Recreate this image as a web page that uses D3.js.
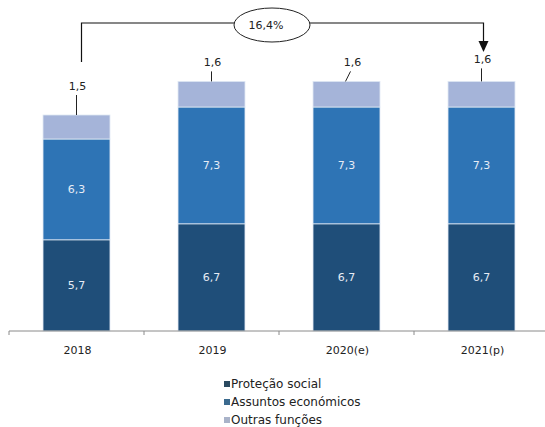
<!DOCTYPE html>
<html><head><meta charset="utf-8">
<script src="https://cdn.jsdelivr.net/npm/d3@7"></script>
<style>body{margin:0;background:#fff}svg{display:block}</style>
</head><body>
<script>
const categories = ["2018","2019","2020(e)","2021(p)"];
const protecao = [5.7, 6.7, 6.7, 6.7];
const assuntos = [6.3, 7.3, 7.3, 7.3];
const outras = [1.5, 1.6, 1.6, 1.6];
const seriesNames = ["Proteção social","Assuntos económicos","Outras funções"];
const growthLabel = "16,4%";

const W = 545, H = 427;
const colors = ["#1f4e79", "#2e74b5", "#a5b4d9"];
const legendColors = ["#2a4a60", "#3b6a8e", "#a9b3c9"];
const fmt = v => String(v).replace(".", ",");

const svg = d3.select("body").append("svg").attr("width", W).attr("height", H)
  .style("font-family", "'DejaVu Sans', sans-serif");

const x = d3.scaleBand().domain(categories).range([9, 549]).paddingInner(0.504).paddingOuter(0.252);
const y = d3.scaleLinear().domain([0, 20]).range([331, 11]);

const rows = categories.map((c, i) => ({cat: c, p: protecao[i], a: assuntos[i], o: outras[i]}));
const stack = d3.stack().keys(["p","a","o"])(rows);

stack.forEach((layer, li) => {
  const g = svg.append("g");
  g.selectAll("rect").data(layer).join("rect")
    .attr("x", d => x(d.data.cat))
    .attr("width", x.bandwidth())
    .attr("y", d => y(d[1]))
    .attr("height", d => y(d[0]) - y(d[1]))
    .attr("fill", colors[li])
    .attr("stroke", "#dfe8f3").attr("stroke-width", 0.8);
  if (li < 2) {
    g.selectAll("text").data(layer).join("text")
      .attr("x", d => x(d.data.cat) + x.bandwidth()/2)
      .attr("y", d => (y(d[0]) + y(d[1]))/2)
      .attr("dy", "0.35em").attr("text-anchor", "middle")
      .attr("font-size", 11).attr("fill", "#e6ecf5")
      .text(d => fmt(d[1] - d[0]));
  }
});

// Top labels with leader lines
const lift = [29, 19, 19, 22];
const slant = [0, 0, 5, 0];
const topLayer = stack[2];
topLayer.forEach((d, i) => {
  const cx = x(d.data.cat) + x.bandwidth()/2;
  const yt = y(d[1]);
  const ly = yt - lift[i];
  svg.append("line")
    .attr("x1", cx - (slant[i] ? 1 : 0)).attr("y1", yt)
    .attr("x2", cx + slant[i] - (slant[i] ? 1 : 0)).attr("y2", ly + 9)
    .attr("stroke", "#222").attr("stroke-width", 1);
  svg.append("text").attr("x", cx + (slant[i] ? 6 : 1)).attr("y", ly).attr("dy", "0.35em")
    .attr("text-anchor", "middle").attr("font-size", 11).attr("fill", "#222")
    .text(fmt(outras[i]));
});

// Axis
const axisG = svg.append("g").attr("transform", "translate(0,331)");
axisG.append("line").attr("x1", 9).attr("x2", W).attr("y1", 0).attr("y2", 0)
  .attr("stroke", "#8a8a8a");
const tickXs = categories.map(c => x(c) - x.step()*x.paddingInner()/2);
tickXs.push(x(categories[3]) + x.bandwidth() + x.step()*x.paddingInner()/2);
axisG.selectAll("line.t").data(tickXs).join("line").attr("class","t")
  .attr("x1", d => d).attr("x2", d => d).attr("y1", 0).attr("y2", 4)
  .attr("stroke", "#8a8a8a");
axisG.selectAll("text").data(categories).join("text")
  .attr("x", d => x(d) + x.bandwidth()/2 + 1).attr("y", 19).attr("dy", "0.35em")
  .attr("text-anchor", "middle").attr("font-size", 11).attr("fill", "#222")
  .text(d => d);

// Growth arrow annotation
const x0 = x(categories[0]) + x.bandwidth()/2 + 5;
const x3 = x(categories[3]) + x.bandwidth()/2 + 2;
const ly0 = 23, ex = 272, ey = 25, erx = 38, ery = 17;
svg.append("path")
  .attr("d", `M${x0},62 V${ly0} H${ex - erx}`)
  .attr("fill", "none").attr("stroke", "#111").attr("stroke-width", 1.2);
svg.append("path")
  .attr("d", `M${ex + erx},${ly0} H${x3} V44`)
  .attr("fill", "none").attr("stroke", "#111").attr("stroke-width", 1.2);
svg.append("path")
  .attr("d", `M${x3-5},41 L${x3+5},41 L${x3},52 Z`).attr("fill", "#111");
svg.append("ellipse").attr("cx", ex).attr("cy", ey).attr("rx", erx).attr("ry", ery)
  .attr("fill", "#fff").attr("stroke", "#222").attr("stroke-width", 1);
svg.append("text").attr("x", ex - 6).attr("y", ey).attr("dy", "0.35em")
  .attr("text-anchor", "middle").attr("font-size", 11).attr("fill", "#222")
  .text(growthLabel);

// Legend
const leg = svg.append("g").attr("transform", "translate(224,0)");
seriesNames.forEach((n, i) => {
  const yy = 384 + i * 18;
  leg.append("rect").attr("x", 0).attr("y", yy - 3).attr("width", 6).attr("height", 6)
    .attr("fill", legendColors[i]);
  leg.append("text").attr("x", 7).attr("y", yy).attr("dy", "0.35em")
    .attr("font-size", 12).attr("fill", "#222").text(n);
});
</script>
</body></html>
